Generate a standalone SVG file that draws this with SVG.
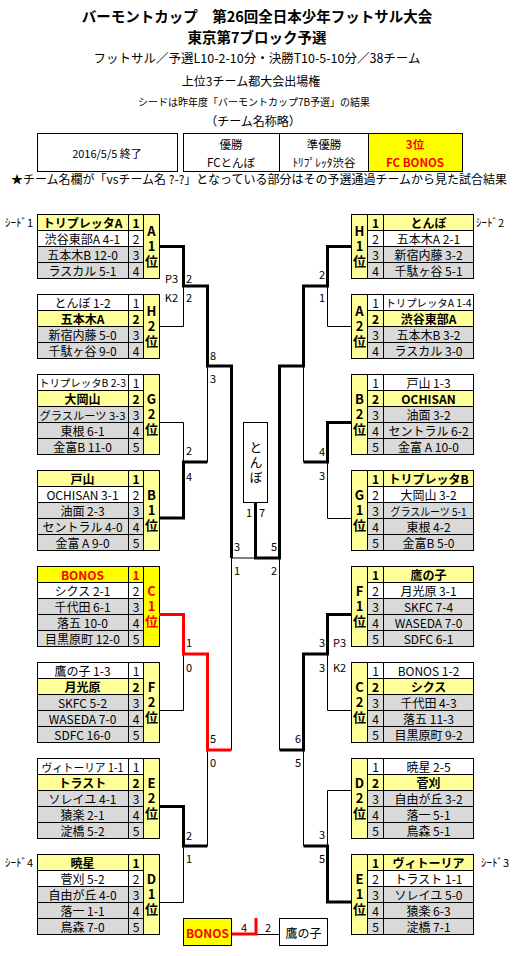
<svg xmlns="http://www.w3.org/2000/svg" width="514" height="956" viewBox="0 0 514 956">
<style>
text{font-family:"Noto Sans CJK JP","Noto Sans",sans-serif;dominant-baseline:central;text-anchor:middle;fill:#000}
.c{stroke:#000;stroke-width:1}
.y{fill:#ffff99}.Y{fill:#ffff00}.g{fill:#d9d9d9}.w{fill:#fff}
.n{font-size:12px}
.rt{font-size:11.5px}
.b{font-weight:bold}
.k{font-size:13px;font-weight:bold}
.v{writing-mode:vertical-rl;text-orientation:upright;letter-spacing:2px}
.r{fill:#f00}
.thin{fill:none;stroke:#000;stroke-width:1}
.thick{fill:none;stroke:#000;stroke-width:3}
.redl{fill:none;stroke:#f00;stroke-width:3}
.s{font-size:11px;text-anchor:start}
.e{font-size:11px;text-anchor:end}
.m{font-size:11px}
.sd{font-size:11px;text-anchor:start}
</style>
<rect width="514" height="956" fill="#fff"/>
<g id="title">
<text x="257" y="15" style="font-size:14.5px;font-weight:bold">バーモントカップ　第26回全日本少年フットサル大会</text>
<text x="257" y="36" style="font-size:14.5px;font-weight:bold">東京第7ブロック予選</text>
<text x="257" y="57" style="font-size:12.5px">フットサル／予選L10-2-10分・決勝T10-5-10分／38チーム</text>
<text x="251" y="80" style="font-size:12px">上位3チーム都大会出場権</text>
<text x="254" y="101" style="font-size:10px">シードは昨年度「バーモントカップ7B予選」の結果</text>
<text x="253" y="120" style="font-size:12px">（チーム名称略）</text>
</g>
<g id="date">
<rect class="c w" x="37.5" y="133.5" width="140" height="38"/>
<text x="107" y="152.5" style="font-size:11px">2016/5/5 終了</text>
</g>
<g id="results">
<rect class="c w" x="183.5" y="133.5" width="96" height="38"/>
<rect class="c w" x="279.5" y="133.5" width="89" height="38"/>
<rect class="c Y" x="368.5" y="133.5" width="94" height="38"/>
<text class="rt" x="231" y="144">優勝</text>
<text class="rt" x="231" y="161.5">FCとんぼ</text>
<text class="rt" x="324" y="144">準優勝</text>
<text class="rt" x="324" y="161.5">ﾄﾘﾌﾟﾚｯﾀ渋谷</text>
<text class="rt b r" x="415" y="144">3位</text>
<text class="rt b r" x="415" y="161.5">FC BONOS</text>
</g>
<text x="259" y="178" style="font-size:12px">★チーム名欄が「vsチーム名 ?-?」となっている部分はその予選通過チームから見た試合結果</text>
<g id="seeds">
<text class="sd" x="5" y="222">ｼｰﾄﾞ1</text>
<text class="sd" x="476" y="222">ｼｰﾄﾞ2</text>
<text class="sd" x="5" y="862">ｼｰﾄﾞ4</text>
<text class="sd" x="481" y="862">ｼｰﾄﾞ3</text>
</g>

<!-- LEFT GROUPS -->
<g id="grpA1">
<rect class="c y" x="37.5" y="214.5" width="91" height="16"/><rect class="c y" x="128.5" y="214.5" width="15" height="16"/>
<rect class="c w" x="37.5" y="230.5" width="91" height="16"/><rect class="c w" x="128.5" y="230.5" width="15" height="16"/>
<rect class="c g" x="37.5" y="246.5" width="91" height="16"/><rect class="c g" x="128.5" y="246.5" width="15" height="16"/>
<rect class="c g" x="37.5" y="262.5" width="91" height="16"/><rect class="c g" x="128.5" y="262.5" width="15" height="16"/>
<rect class="c y" x="143.5" y="214.5" width="16" height="64"/>
<text class="n b" x="82.5" y="222.5">トリプレッタA</text><text class="n b" x="136" y="222.5">1</text>
<text class="n" x="82.5" y="238.5">渋谷東部A 4-1</text><text class="n" x="136" y="238.5">2</text>
<text class="n" x="82.5" y="254.5">五本木B 12-0</text><text class="n" x="136" y="254.5">3</text>
<text class="n" x="82.5" y="270.5">ラスカル 5-1</text><text class="n" x="136" y="270.5">4</text>
<text class="k v" x="151.5" y="247.5">A1位</text>
</g>
<g id="grpH2">
<rect class="c w" x="37.5" y="294.5" width="91" height="16"/><rect class="c w" x="128.5" y="294.5" width="15" height="16"/>
<rect class="c y" x="37.5" y="310.5" width="91" height="16"/><rect class="c y" x="128.5" y="310.5" width="15" height="16"/>
<rect class="c g" x="37.5" y="326.5" width="91" height="16"/><rect class="c g" x="128.5" y="326.5" width="15" height="16"/>
<rect class="c g" x="37.5" y="342.5" width="91" height="16"/><rect class="c g" x="128.5" y="342.5" width="15" height="16"/>
<rect class="c y" x="143.5" y="294.5" width="16" height="64"/>
<text class="n" x="82.5" y="302.5">とんぼ 1-2</text><text class="n" x="136" y="302.5">1</text>
<text class="n b" x="82.5" y="318.5">五本木A</text><text class="n b" x="136" y="318.5">2</text>
<text class="n" x="82.5" y="334.5">新宿内藤 5-0</text><text class="n" x="136" y="334.5">3</text>
<text class="n" x="82.5" y="350.5">千駄ヶ谷 9-0</text><text class="n" x="136" y="350.5">4</text>
<text class="k v" x="151.5" y="327.5">H2位</text>
</g>
<g id="grpG2">
<rect class="c w" x="37.5" y="374.5" width="91" height="16"/><rect class="c w" x="128.5" y="374.5" width="15" height="16"/>
<rect class="c y" x="37.5" y="390.5" width="91" height="16"/><rect class="c y" x="128.5" y="390.5" width="15" height="16"/>
<rect class="c g" x="37.5" y="406.5" width="91" height="16"/><rect class="c g" x="128.5" y="406.5" width="15" height="16"/>
<rect class="c g" x="37.5" y="422.5" width="91" height="16"/><rect class="c g" x="128.5" y="422.5" width="15" height="16"/>
<rect class="c g" x="37.5" y="438.5" width="91" height="16"/><rect class="c g" x="128.5" y="438.5" width="15" height="16"/>
<rect class="c y" x="143.5" y="374.5" width="16" height="80"/>
<text x="82.5" y="382.5" style="font-size:10.5px" textLength="87" lengthAdjust="spacingAndGlyphs">トリプレッタB 2-3</text><text class="n" x="136" y="382.5">1</text>
<text class="n b" x="82.5" y="398.5">大岡山</text><text class="n b" x="136" y="398.5">2</text>
<text x="82.5" y="414.5" style="font-size:11px" textLength="86" lengthAdjust="spacingAndGlyphs">グラスルーツ 3-3</text><text class="n" x="136" y="414.5">3</text>
<text class="n" x="82.5" y="430.5">東根 6-1</text><text class="n" x="136" y="430.5">4</text>
<text class="n" x="82.5" y="446.5">金富B 11-0</text><text class="n" x="136" y="446.5">5</text>
<text class="k v" x="151.5" y="415.5">G2位</text>
</g>
<g id="grpB1">
<rect class="c y" x="37.5" y="470.5" width="91" height="16"/><rect class="c y" x="128.5" y="470.5" width="15" height="16"/>
<rect class="c w" x="37.5" y="486.5" width="91" height="16"/><rect class="c w" x="128.5" y="486.5" width="15" height="16"/>
<rect class="c g" x="37.5" y="502.5" width="91" height="16"/><rect class="c g" x="128.5" y="502.5" width="15" height="16"/>
<rect class="c g" x="37.5" y="518.5" width="91" height="16"/><rect class="c g" x="128.5" y="518.5" width="15" height="16"/>
<rect class="c g" x="37.5" y="534.5" width="91" height="16"/><rect class="c g" x="128.5" y="534.5" width="15" height="16"/>
<rect class="c y" x="143.5" y="470.5" width="16" height="80"/>
<text class="n b" x="82.5" y="478.5">戸山</text><text class="n b" x="136" y="478.5">1</text>
<text class="n" x="82.5" y="494.5">OCHISAN 3-1</text><text class="n" x="136" y="494.5">2</text>
<text class="n" x="82.5" y="510.5">油面 2-3</text><text class="n" x="136" y="510.5">3</text>
<text class="n" x="82.5" y="526.5">セントラル 4-0</text><text class="n" x="136" y="526.5">4</text>
<text class="n" x="82.5" y="542.5">金富 A 9-0</text><text class="n" x="136" y="542.5">5</text>
<text class="k v" x="151.5" y="511.5">B1位</text>
</g>
<g id="grpC1">
<rect class="c Y" x="37.5" y="566.5" width="91" height="16"/><rect class="c Y" x="128.5" y="566.5" width="15" height="16"/>
<rect class="c w" x="37.5" y="582.5" width="91" height="16"/><rect class="c w" x="128.5" y="582.5" width="15" height="16"/>
<rect class="c g" x="37.5" y="598.5" width="91" height="16"/><rect class="c g" x="128.5" y="598.5" width="15" height="16"/>
<rect class="c g" x="37.5" y="614.5" width="91" height="16"/><rect class="c g" x="128.5" y="614.5" width="15" height="16"/>
<rect class="c g" x="37.5" y="630.5" width="91" height="16"/><rect class="c g" x="128.5" y="630.5" width="15" height="16"/>
<rect class="c Y" x="143.5" y="566.5" width="16" height="80"/>
<text class="n b r" x="82.5" y="574.5">BONOS</text><text class="n b r" x="136" y="574.5">1</text>
<text class="n" x="82.5" y="590.5">シクス 2-1</text><text class="n" x="136" y="590.5">2</text>
<text class="n" x="82.5" y="606.5">千代田 6-1</text><text class="n" x="136" y="606.5">3</text>
<text class="n" x="82.5" y="622.5">落五 10-0</text><text class="n" x="136" y="622.5">4</text>
<text class="n" x="82.5" y="638.5">目黒原町 12-0</text><text class="n" x="136" y="638.5">5</text>
<text class="k v r" x="151.5" y="607.5">C1位</text>
</g>
<g id="grpF2">
<rect class="c w" x="37.5" y="662.5" width="91" height="16"/><rect class="c w" x="128.5" y="662.5" width="15" height="16"/>
<rect class="c y" x="37.5" y="678.5" width="91" height="16"/><rect class="c y" x="128.5" y="678.5" width="15" height="16"/>
<rect class="c g" x="37.5" y="694.5" width="91" height="16"/><rect class="c g" x="128.5" y="694.5" width="15" height="16"/>
<rect class="c g" x="37.5" y="710.5" width="91" height="16"/><rect class="c g" x="128.5" y="710.5" width="15" height="16"/>
<rect class="c g" x="37.5" y="726.5" width="91" height="16"/><rect class="c g" x="128.5" y="726.5" width="15" height="16"/>
<rect class="c y" x="143.5" y="662.5" width="16" height="80"/>
<text class="n" x="82.5" y="670.5">鷹の子 1-3</text><text class="n" x="136" y="670.5">1</text>
<text class="n b" x="82.5" y="686.5">月光原</text><text class="n b" x="136" y="686.5">2</text>
<text class="n" x="82.5" y="702.5">SKFC 5-2</text><text class="n" x="136" y="702.5">3</text>
<text class="n" x="82.5" y="718.5">WASEDA 7-0</text><text class="n" x="136" y="718.5">4</text>
<text class="n" x="82.5" y="734.5">SDFC 16-0</text><text class="n" x="136" y="734.5">5</text>
<text class="k v" x="151.5" y="703.5">F2位</text>
</g>
<g id="grpE2">
<rect class="c w" x="37.5" y="758.5" width="91" height="16"/><rect class="c w" x="128.5" y="758.5" width="15" height="16"/>
<rect class="c y" x="37.5" y="774.5" width="91" height="16"/><rect class="c y" x="128.5" y="774.5" width="15" height="16"/>
<rect class="c g" x="37.5" y="790.5" width="91" height="16"/><rect class="c g" x="128.5" y="790.5" width="15" height="16"/>
<rect class="c g" x="37.5" y="806.5" width="91" height="16"/><rect class="c g" x="128.5" y="806.5" width="15" height="16"/>
<rect class="c g" x="37.5" y="822.5" width="91" height="16"/><rect class="c g" x="128.5" y="822.5" width="15" height="16"/>
<rect class="c y" x="143.5" y="758.5" width="16" height="80"/>
<text x="82.5" y="766.5" style="font-size:11.5px" textLength="82" lengthAdjust="spacingAndGlyphs">ヴィトーリア 1-1</text><text class="n" x="136" y="766.5">1</text>
<text class="n b" x="82.5" y="782.5">トラスト</text><text class="n b" x="136" y="782.5">2</text>
<text class="n" x="82.5" y="798.5">ソレイユ 4-1</text><text class="n" x="136" y="798.5">3</text>
<text class="n" x="82.5" y="814.5">猿楽 2-1</text><text class="n" x="136" y="814.5">4</text>
<text class="n" x="82.5" y="830.5">淀橋 5-2</text><text class="n" x="136" y="830.5">5</text>
<text class="k v" x="151.5" y="799.5">E2位</text>
</g>
<g id="grpD1">
<rect class="c y" x="37.5" y="854.5" width="91" height="16"/><rect class="c y" x="128.5" y="854.5" width="15" height="16"/>
<rect class="c w" x="37.5" y="870.5" width="91" height="16"/><rect class="c w" x="128.5" y="870.5" width="15" height="16"/>
<rect class="c g" x="37.5" y="886.5" width="91" height="16"/><rect class="c g" x="128.5" y="886.5" width="15" height="16"/>
<rect class="c g" x="37.5" y="902.5" width="91" height="16"/><rect class="c g" x="128.5" y="902.5" width="15" height="16"/>
<rect class="c g" x="37.5" y="918.5" width="91" height="16"/><rect class="c g" x="128.5" y="918.5" width="15" height="16"/>
<rect class="c y" x="143.5" y="854.5" width="16" height="80"/>
<text class="n b" x="82.5" y="862.5">暁星</text><text class="n b" x="136" y="862.5">1</text>
<text class="n" x="82.5" y="878.5">菅刈 5-2</text><text class="n" x="136" y="878.5">2</text>
<text class="n" x="82.5" y="894.5">自由が丘 4-0</text><text class="n" x="136" y="894.5">3</text>
<text class="n" x="82.5" y="910.5">落一 1-1</text><text class="n" x="136" y="910.5">4</text>
<text class="n" x="82.5" y="926.5">鳥森 7-0</text><text class="n" x="136" y="926.5">5</text>
<text class="k v" x="151.5" y="895.5">D1位</text>
</g>

<!-- RIGHT GROUPS -->
<g id="grpH1">
<rect class="c y" x="367.5" y="214.5" width="16" height="16"/><rect class="c y" x="383.5" y="214.5" width="90" height="16"/>
<rect class="c w" x="367.5" y="230.5" width="16" height="16"/><rect class="c w" x="383.5" y="230.5" width="90" height="16"/>
<rect class="c g" x="367.5" y="246.5" width="16" height="16"/><rect class="c g" x="383.5" y="246.5" width="90" height="16"/>
<rect class="c g" x="367.5" y="262.5" width="16" height="16"/><rect class="c g" x="383.5" y="262.5" width="90" height="16"/>
<rect class="c y" x="351.5" y="214.5" width="16" height="64"/>
<text class="n b" x="375.5" y="222.5">1</text><text class="n b" x="428.5" y="222.5">とんぼ</text>
<text class="n" x="375.5" y="238.5">2</text><text class="n" x="428.5" y="238.5">五本木A 2-1</text>
<text class="n" x="375.5" y="254.5">3</text><text class="n" x="428.5" y="254.5">新宿内藤 3-2</text>
<text class="n" x="375.5" y="270.5">4</text><text class="n" x="428.5" y="270.5">千駄ヶ谷 5-1</text>
<text class="k v" x="359.5" y="247.5">H1位</text>
</g>
<g id="grpA2">
<rect class="c w" x="367.5" y="294.5" width="16" height="16"/><rect class="c w" x="383.5" y="294.5" width="90" height="16"/>
<rect class="c y" x="367.5" y="310.5" width="16" height="16"/><rect class="c y" x="383.5" y="310.5" width="90" height="16"/>
<rect class="c g" x="367.5" y="326.5" width="16" height="16"/><rect class="c g" x="383.5" y="326.5" width="90" height="16"/>
<rect class="c g" x="367.5" y="342.5" width="16" height="16"/><rect class="c g" x="383.5" y="342.5" width="90" height="16"/>
<rect class="c y" x="351.5" y="294.5" width="16" height="64"/>
<text class="n" x="375.5" y="302.5">1</text><text x="428.5" y="302.5" style="font-size:10.5px" textLength="86" lengthAdjust="spacingAndGlyphs">トリプレッタA 1-4</text>
<text class="n b" x="375.5" y="318.5">2</text><text class="n b" x="428.5" y="318.5">渋谷東部A</text>
<text class="n" x="375.5" y="334.5">3</text><text class="n" x="428.5" y="334.5">五本木B 3-2</text>
<text class="n" x="375.5" y="350.5">4</text><text class="n" x="428.5" y="350.5">ラスカル 3-0</text>
<text class="k v" x="359.5" y="327.5">A2位</text>
</g>
<g id="grpB2">
<rect class="c w" x="367.5" y="374.5" width="16" height="16"/><rect class="c w" x="383.5" y="374.5" width="90" height="16"/>
<rect class="c y" x="367.5" y="390.5" width="16" height="16"/><rect class="c y" x="383.5" y="390.5" width="90" height="16"/>
<rect class="c g" x="367.5" y="406.5" width="16" height="16"/><rect class="c g" x="383.5" y="406.5" width="90" height="16"/>
<rect class="c g" x="367.5" y="422.5" width="16" height="16"/><rect class="c g" x="383.5" y="422.5" width="90" height="16"/>
<rect class="c g" x="367.5" y="438.5" width="16" height="16"/><rect class="c g" x="383.5" y="438.5" width="90" height="16"/>
<rect class="c y" x="351.5" y="374.5" width="16" height="80"/>
<text class="n" x="375.5" y="382.5">1</text><text class="n" x="428.5" y="382.5">戸山 1-3</text>
<text class="n b" x="375.5" y="398.5">2</text><text class="n b" x="428.5" y="398.5">OCHISAN</text>
<text class="n" x="375.5" y="414.5">3</text><text class="n" x="428.5" y="414.5">油面 3-2</text>
<text class="n" x="375.5" y="430.5">4</text><text class="n" x="428.5" y="430.5">セントラル 6-2</text>
<text class="n" x="375.5" y="446.5">5</text><text class="n" x="428.5" y="446.5">金富 A 10-0</text>
<text class="k v" x="359.5" y="415.5">B2位</text>
</g>
<g id="grpG1">
<rect class="c y" x="367.5" y="470.5" width="16" height="16"/><rect class="c y" x="383.5" y="470.5" width="90" height="16"/>
<rect class="c w" x="367.5" y="486.5" width="16" height="16"/><rect class="c w" x="383.5" y="486.5" width="90" height="16"/>
<rect class="c g" x="367.5" y="502.5" width="16" height="16"/><rect class="c g" x="383.5" y="502.5" width="90" height="16"/>
<rect class="c g" x="367.5" y="518.5" width="16" height="16"/><rect class="c g" x="383.5" y="518.5" width="90" height="16"/>
<rect class="c g" x="367.5" y="534.5" width="16" height="16"/><rect class="c g" x="383.5" y="534.5" width="90" height="16"/>
<rect class="c y" x="351.5" y="470.5" width="16" height="80"/>
<text class="n b" x="375.5" y="478.5">1</text><text class="n b" x="428.5" y="478.5">トリプレッタB</text>
<text class="n" x="375.5" y="494.5">2</text><text class="n" x="428.5" y="494.5">大岡山 3-2</text>
<text class="n" x="375.5" y="510.5">3</text><text x="428.5" y="510.5" style="font-size:11px" textLength="76" lengthAdjust="spacingAndGlyphs">グラスルーツ 5-1</text>
<text class="n" x="375.5" y="526.5">4</text><text class="n" x="428.5" y="526.5">東根 4-2</text>
<text class="n" x="375.5" y="542.5">5</text><text class="n" x="428.5" y="542.5">金富B 5-0</text>
<text class="k v" x="359.5" y="511.5">G1位</text>
</g>
<g id="grpF1">
<rect class="c y" x="367.5" y="566.5" width="16" height="16"/><rect class="c y" x="383.5" y="566.5" width="90" height="16"/>
<rect class="c w" x="367.5" y="582.5" width="16" height="16"/><rect class="c w" x="383.5" y="582.5" width="90" height="16"/>
<rect class="c g" x="367.5" y="598.5" width="16" height="16"/><rect class="c g" x="383.5" y="598.5" width="90" height="16"/>
<rect class="c g" x="367.5" y="614.5" width="16" height="16"/><rect class="c g" x="383.5" y="614.5" width="90" height="16"/>
<rect class="c g" x="367.5" y="630.5" width="16" height="16"/><rect class="c g" x="383.5" y="630.5" width="90" height="16"/>
<rect class="c y" x="351.5" y="566.5" width="16" height="80"/>
<text class="n b" x="375.5" y="574.5">1</text><text class="n b" x="428.5" y="574.5">鷹の子</text>
<text class="n" x="375.5" y="590.5">2</text><text class="n" x="428.5" y="590.5">月光原 3-1</text>
<text class="n" x="375.5" y="606.5">3</text><text class="n" x="428.5" y="606.5">SKFC 7-4</text>
<text class="n" x="375.5" y="622.5">4</text><text class="n" x="428.5" y="622.5">WASEDA 7-0</text>
<text class="n" x="375.5" y="638.5">5</text><text class="n" x="428.5" y="638.5">SDFC 6-1</text>
<text class="k v" x="359.5" y="607.5">F1位</text>
</g>
<g id="grpC2">
<rect class="c w" x="367.5" y="662.5" width="16" height="16"/><rect class="c w" x="383.5" y="662.5" width="90" height="16"/>
<rect class="c y" x="367.5" y="678.5" width="16" height="16"/><rect class="c y" x="383.5" y="678.5" width="90" height="16"/>
<rect class="c g" x="367.5" y="694.5" width="16" height="16"/><rect class="c g" x="383.5" y="694.5" width="90" height="16"/>
<rect class="c g" x="367.5" y="710.5" width="16" height="16"/><rect class="c g" x="383.5" y="710.5" width="90" height="16"/>
<rect class="c g" x="367.5" y="726.5" width="16" height="16"/><rect class="c g" x="383.5" y="726.5" width="90" height="16"/>
<rect class="c y" x="351.5" y="662.5" width="16" height="80"/>
<text class="n" x="375.5" y="670.5">1</text><text class="n" x="428.5" y="670.5">BONOS 1-2</text>
<text class="n b" x="375.5" y="686.5">2</text><text class="n b" x="428.5" y="686.5">シクス</text>
<text class="n" x="375.5" y="702.5">3</text><text class="n" x="428.5" y="702.5">千代田 4-3</text>
<text class="n" x="375.5" y="718.5">4</text><text class="n" x="428.5" y="718.5">落五 11-3</text>
<text class="n" x="375.5" y="734.5">5</text><text class="n" x="428.5" y="734.5">目黒原町 9-2</text>
<text class="k v" x="359.5" y="703.5">C2位</text>
</g>
<g id="grpD2">
<rect class="c w" x="367.5" y="758.5" width="16" height="16"/><rect class="c w" x="383.5" y="758.5" width="90" height="16"/>
<rect class="c y" x="367.5" y="774.5" width="16" height="16"/><rect class="c y" x="383.5" y="774.5" width="90" height="16"/>
<rect class="c g" x="367.5" y="790.5" width="16" height="16"/><rect class="c g" x="383.5" y="790.5" width="90" height="16"/>
<rect class="c g" x="367.5" y="806.5" width="16" height="16"/><rect class="c g" x="383.5" y="806.5" width="90" height="16"/>
<rect class="c g" x="367.5" y="822.5" width="16" height="16"/><rect class="c g" x="383.5" y="822.5" width="90" height="16"/>
<rect class="c y" x="351.5" y="758.5" width="16" height="80"/>
<text class="n" x="375.5" y="766.5">1</text><text class="n" x="428.5" y="766.5">暁星 2-5</text>
<text class="n b" x="375.5" y="782.5">2</text><text class="n b" x="428.5" y="782.5">菅刈</text>
<text class="n" x="375.5" y="798.5">3</text><text class="n" x="428.5" y="798.5">自由が丘 3-2</text>
<text class="n" x="375.5" y="814.5">4</text><text class="n" x="428.5" y="814.5">落一 5-1</text>
<text class="n" x="375.5" y="830.5">5</text><text class="n" x="428.5" y="830.5">鳥森 5-1</text>
<text class="k v" x="359.5" y="799.5">D2位</text>
</g>
<g id="grpE1">
<rect class="c y" x="367.5" y="854.5" width="16" height="16"/><rect class="c y" x="383.5" y="854.5" width="90" height="16"/>
<rect class="c w" x="367.5" y="870.5" width="16" height="16"/><rect class="c w" x="383.5" y="870.5" width="90" height="16"/>
<rect class="c g" x="367.5" y="886.5" width="16" height="16"/><rect class="c g" x="383.5" y="886.5" width="90" height="16"/>
<rect class="c g" x="367.5" y="902.5" width="16" height="16"/><rect class="c g" x="383.5" y="902.5" width="90" height="16"/>
<rect class="c g" x="367.5" y="918.5" width="16" height="16"/><rect class="c g" x="383.5" y="918.5" width="90" height="16"/>
<rect class="c y" x="351.5" y="854.5" width="16" height="80"/>
<text class="n b" x="375.5" y="862.5">1</text><text class="n b" x="428.5" y="862.5">ヴィトーリア</text>
<text class="n" x="375.5" y="878.5">2</text><text class="n" x="428.5" y="878.5">トラスト 1-1</text>
<text class="n" x="375.5" y="894.5">3</text><text class="n" x="428.5" y="894.5">ソレイユ 5-0</text>
<text class="n" x="375.5" y="910.5">4</text><text class="n" x="428.5" y="910.5">猿楽 6-3</text>
<text class="n" x="375.5" y="926.5">5</text><text class="n" x="428.5" y="926.5">淀橋 7-1</text>
<text class="k v" x="359.5" y="895.5">E1位</text>
</g>

<g id="champion">
<rect class="c w" x="243.5" y="422.5" width="24" height="80"/>
<text class="v" x="256" y="463.5" style="font-size:13px">とんぼ</text>
</g>
<g id="third-BONOS">
<rect class="c Y" x="183.5" y="918.5" width="48" height="27"/>
<text class="n b r" x="207.5" y="932.5">BONOS</text>
</g>
<g id="third-takanoko">
<rect class="c w" x="279.5" y="918.5" width="48" height="27"/>
<text class="n" x="303.5" y="932.5">鷹の子</text>
</g>

<g id="connectors">
<polyline class="thin" points="159,326.5 183.5,326.5 183.5,286"/>
<polyline class="thin" points="159,422.5 183.5,422.5 183.5,462"/>
<line class="thin" x1="207.5" y1="462" x2="207.5" y2="366"/>
<line class="thin" x1="231.5" y1="558" x2="255.5" y2="558"/>
<line class="thin" x1="231.5" y1="558" x2="231.5" y2="750"/>
<polyline class="thin" points="159,710.5 183.5,710.5 183.5,654"/>
<polyline class="thin" points="159,902.5 183.5,902.5 183.5,846"/>
<line class="thin" x1="207.5" y1="846" x2="207.5" y2="750"/>
<polyline class="thin" points="351,326.5 327.5,326.5 327.5,286"/>
<polyline class="thin" points="351,518.5 327.5,518.5 327.5,462"/>
<line class="thin" x1="303.5" y1="462" x2="303.5" y2="366"/>
<polyline class="thin" points="351,710.5 327.5,710.5 327.5,654"/>
<line class="thin" x1="279.5" y1="750" x2="279.5" y2="558"/>
<polyline class="thin" points="351,790.5 327.5,790.5 327.5,846"/>
<line class="thin" x1="303.5" y1="846" x2="303.5" y2="750"/>
<line class="thin" x1="256" y1="934.5" x2="279" y2="934.5"/>

<polyline class="thick" points="159,246.5 183.5,246.5 183.5,286 207.5,286 207.5,366 231.5,366 231.5,558"/>
<polyline class="thick" points="159,518 183.5,518 183.5,462 207.5,462"/>
<polyline class="thick" points="159,806.5 183.5,806.5 183.5,846 207.5,846"/>
<polyline class="thick" points="351,246.5 327.5,246.5 327.5,286 303.5,286 303.5,366 279.5,366 279.5,558 255.5,558 255.5,503"/>
<polyline class="thick" points="351,422.5 327.5,422.5 327.5,462 303.5,462"/>
<polyline class="thick" points="351,614.5 327.5,614.5 327.5,654 303.5,654 303.5,750 279.5,750"/>
<polyline class="thick" points="351,902 327.5,902 327.5,846 303.5,846"/>

<polyline class="redl" points="232,934 256,934 256,918"/>
<polyline class="redl" points="159,614.5 183.5,614.5 183.5,654 207.5,654 207.5,750 231.5,750"/>
</g>

<g id="scores">
<text class="e" x="178" y="278">P3</text><text class="s" x="186" y="278">2</text>
<text class="e" x="178" y="297">K2</text><text class="s" x="186" y="297">2</text>
<text class="s" x="210" y="355">8</text><text class="s" x="210" y="378">3</text>
<text class="s" x="186" y="450">2</text><text class="s" x="186" y="476">4</text>
<text class="s" x="234" y="546">3</text><text class="s" x="234" y="570">1</text>
<text class="s" x="186" y="642">1</text><text class="s" x="186" y="667">0</text>
<text class="s" x="210" y="738">5</text><text class="s" x="210" y="762">0</text>
<text class="s" x="186" y="835">2</text><text class="s" x="186" y="858">1</text>
<text class="e" x="325" y="274">2</text><text class="e" x="325" y="297">1</text>
<text class="e" x="325" y="451">4</text><text class="e" x="325" y="475">3</text>
<text class="e" x="277" y="546">5</text><text class="e" x="277" y="570">2</text>
<text class="e" x="325" y="642">3</text><text class="s" x="333" y="642">P3</text>
<text class="e" x="325" y="667">3</text><text class="s" x="333" y="667">K2</text>
<text class="e" x="301" y="738">6</text><text class="e" x="301" y="762">5</text>
<text class="e" x="325" y="834">3</text><text class="e" x="325" y="858">5</text>
<text class="e" x="252" y="512">1</text><text class="s" x="259" y="512">7</text>
<text class="m" x="244" y="927">4</text><text class="m" x="268" y="927">2</text>
</g>
</svg>
